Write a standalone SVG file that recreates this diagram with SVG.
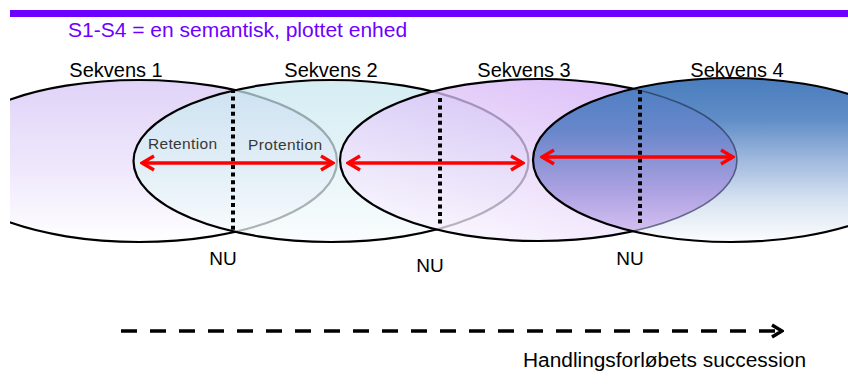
<svg xmlns="http://www.w3.org/2000/svg" width="848" height="391" viewBox="0 0 848 391">
  <style>
    text { font-family: "Liberation Sans", Arial, sans-serif; }
    .seq { font-size: 20px; fill: #000; text-anchor: middle; }
    .nu { font-size: 19px; fill: #000; text-anchor: middle; }
    .tense { font-size: 15.5px; fill: #383838; }
    .outline { stroke: #000; stroke-width: 2.2; }
    .now { stroke: #000; stroke-width: 4; stroke-dasharray: 4 3.6; fill: none; }
    .span { stroke: #ff0000; stroke-width: 3.5; fill: none; marker-start: url(#chevRed); marker-end: url(#chevRed); }
  </style>
  <defs>
    <clipPath id="frame"><rect x="10" y="0" width="838" height="391"/></clipPath>
    <clipPath id="inS3"><ellipse cx="538.5" cy="160" rx="198.5" ry="81"/></clipPath>
    <clipPath id="inS4"><ellipse cx="731" cy="160" rx="198" ry="82"/></clipPath>
    <linearGradient id="g1" x1="0" y1="0" x2="0" y2="1">
      <stop offset="0" stop-color="#e0d3f8"/>
      <stop offset="0.55" stop-color="#efe8fc"/>
      <stop offset="1" stop-color="#ffffff"/>
    </linearGradient>
    <linearGradient id="g2" x1="0" y1="0" x2="0" y2="1">
      <stop offset="0" stop-color="#c4e6ef" stop-opacity="0.72"/>
      <stop offset="0.55" stop-color="#def1f5" stop-opacity="0.72"/>
      <stop offset="1" stop-color="#f8fcfd" stop-opacity="0.72"/>
    </linearGradient>
    <linearGradient id="g3" x1="0.9" y1="0" x2="0.25" y2="1">
      <stop offset="0" stop-color="#cfa4f6" stop-opacity="0.75"/>
      <stop offset="0.5" stop-color="#e2cdf9" stop-opacity="0.75"/>
      <stop offset="1" stop-color="#faf5fe" stop-opacity="0.75"/>
    </linearGradient>
    <linearGradient id="g4" x1="0" y1="0" x2="0" y2="1">
      <stop offset="0" stop-color="#4a7dbd"/>
      <stop offset="0.25" stop-color="#5f8dc7"/>
      <stop offset="0.5" stop-color="#a0b9de"/>
      <stop offset="0.75" stop-color="#d8e3f1"/>
      <stop offset="1" stop-color="#fcfdfe"/>
    </linearGradient>
    <!-- shared area of sequences 3 and 4 -->
    <linearGradient id="g34" gradientUnits="userSpaceOnUse" x1="0" y1="86" x2="0" y2="234">
      <stop offset="0" stop-color="#4f7fc2"/>
      <stop offset="0.3" stop-color="#6887cb"/>
      <stop offset="0.5" stop-color="#8a93d5"/>
      <stop offset="0.72" stop-color="#aea2e2"/>
      <stop offset="1" stop-color="#d6c2f2"/>
    </linearGradient>
    <marker id="chevRed" viewBox="0 0 16 18" refX="14" refY="9" markerWidth="16" markerHeight="18" markerUnits="userSpaceOnUse" orient="auto-start-reverse">
      <path d="M2,2 L14,9 L2,16" fill="none" stroke="#ff0000" stroke-width="3.5"/>
    </marker>
    <marker id="chevBlack" viewBox="0 0 14 16" refX="12" refY="8" markerWidth="14" markerHeight="16" markerUnits="userSpaceOnUse" orient="auto">
      <path d="M2,2 L12,8 L2,14" fill="none" stroke="#000" stroke-width="3.5"/>
    </marker>
  </defs>

  <rect x="0" y="0" width="848" height="391" fill="#ffffff"/>

  <!-- header bar and caption -->
  <rect x="10" y="10" width="838" height="7" fill="#6e00ff"/>
  <text x="68" y="37" font-size="21" fill="#6e00ff">S1-S4 = en semantisk, plottet enhed</text>

  <!-- four overlapping sequences -->
  <g clip-path="url(#frame)">
    <g id="sekvens1">
      <ellipse cx="139" cy="161" rx="198" ry="81" fill="url(#g1)" class="outline"/>
    </g>
    <g id="sekvens2">
      <ellipse cx="331" cy="161" rx="197.5" ry="81" fill="url(#g2)" class="outline"/>
    </g>
    <g id="sekvens3">
      <ellipse cx="538.5" cy="160" rx="198.5" ry="81" fill="url(#g3)" class="outline"/>
    </g>
    <g id="sekvens4">
      <ellipse cx="731" cy="160" rx="198" ry="82" fill="url(#g4)"/>
      <g clip-path="url(#inS4)">
        <rect x="520" y="70" width="230" height="180" fill="url(#g34)" clip-path="url(#inS3)"/>
        <ellipse cx="538.5" cy="160" rx="198.5" ry="81" fill="none" stroke="#1c2a48" stroke-width="1.6" stroke-opacity="0.6"/>
      </g>
      <ellipse cx="731" cy="160" rx="198" ry="82" fill="none" class="outline"/>
    </g>
  </g>

  <!-- sequence labels -->
  <g id="labels">
    <text class="seq" x="116" y="77">Sekvens 1</text>
    <text class="seq" x="331" y="77">Sekvens 2</text>
    <text class="seq" x="524" y="77">Sekvens 3</text>
    <text class="seq" x="737" y="77">Sekvens 4</text>
    <text class="tense" x="148" y="149" textLength="69">Retention</text>
    <text class="tense" x="248" y="150" textLength="74">Protention</text>
    <text class="nu" x="223" y="265">NU</text>
    <text class="nu" x="430" y="272">NU</text>
    <text class="nu" x="630" y="265">NU</text>
  </g>

  <!-- connectors: now-lines, retention/protention spans, succession -->
  <g id="connectors">
    <line class="now" x1="233" y1="89" x2="233" y2="231"/>
    <line class="now" x1="440" y1="98" x2="440" y2="226"/>
    <line class="now" x1="640" y1="90" x2="640" y2="223"/>

    <line class="span" x1="142" y1="163" x2="333" y2="163"/>
    <line class="span" x1="348" y1="163" x2="523" y2="163"/>
    <line class="span" x1="542" y1="157" x2="733" y2="157"/>

    <line x1="121" y1="331" x2="782" y2="331" stroke="#000" stroke-width="3.5" stroke-dasharray="16 13" marker-end="url(#chevBlack)"/>
  </g>
  <text x="523" y="367" font-size="19.5" fill="#000" textLength="283" lengthAdjust="spacingAndGlyphs">Handlingsforløbets succession</text>
</svg>
